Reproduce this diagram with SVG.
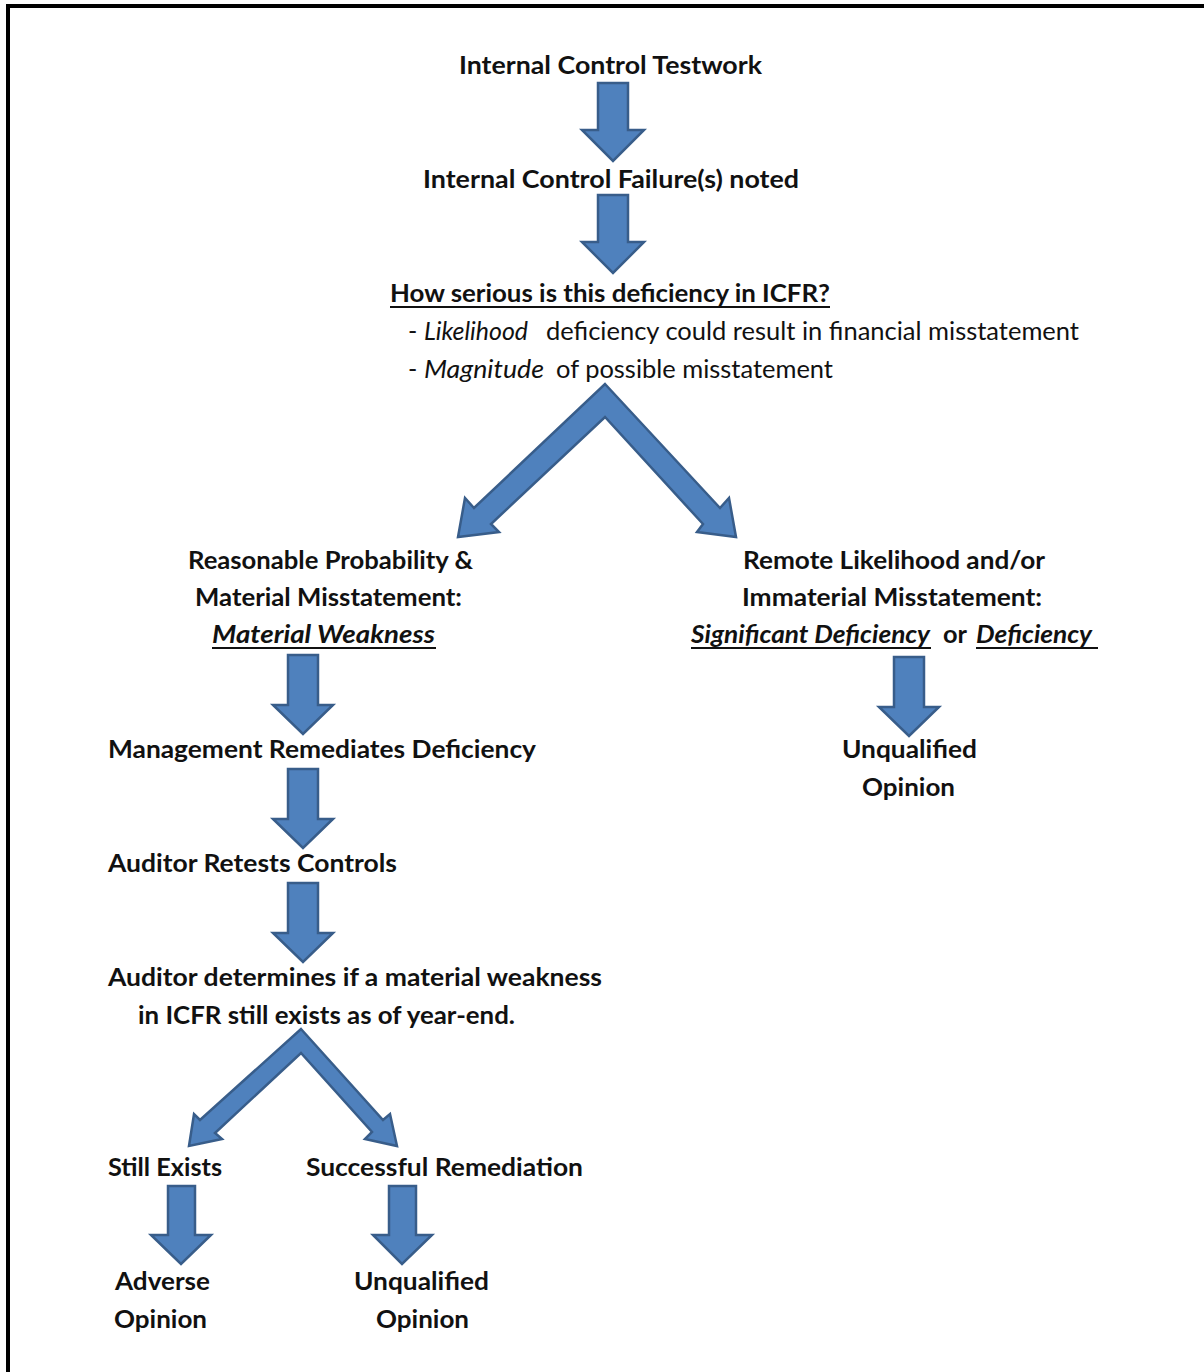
<svg xmlns="http://www.w3.org/2000/svg" width="1204" height="1372" viewBox="0 0 1204 1372">
<style>
.t{font-family:Lato,"Open Sans","Liberation Sans",sans-serif;font-size:25px;fill:#111;}
.b{font-weight:bold;}
.i{font-style:italic;}
.ar{fill:#4F81BD;stroke:#385D8A;stroke-width:2.5;stroke-linejoin:miter;}
.ul{stroke:#111;stroke-width:2;}
</style>
<rect x="0" y="0" width="1204" height="1372" fill="#fff"/>
<rect x="8" y="6" width="1220" height="1400" fill="none" stroke="#000" stroke-width="4"/>

<g id="connectors">
  <polygon class="ar" points="598,83 628,83 628,130 644,130 613,161 582,130 598,130"/>
  <polygon class="ar" points="598,195 628,195 628,242 644,242 613,273 582,242 598,242"/>
  <polygon class="ar" points="605,384 720,508 729,498 736,537 697,532 703,524 605,417 491,524 499,532 458,537 465,498 474,508"/>
  <polygon class="ar" points="288,655 318,655 318,705 333,705 303,734 273,705 288,705"/>
  <polygon class="ar" points="288,769 318,769 318,819 333,819 303,848 273,819 288,819"/>
  <polygon class="ar" points="288,883 318,883 318,933 333,933 303,962 273,933 288,933"/>
  <polygon class="ar" points="894,657 924,657 924,707 939,707 909,736 879,707 894,707"/>
  <polygon class="ar" points="301,1029 383,1120 390,1114 397,1146 365,1139 372,1132 301,1053 215,1133 222,1139 189,1146 194,1114 200,1120"/>
  <polygon class="ar" points="168,1186 195,1186 195,1235 211,1235 181,1264 151,1235 168,1235"/>
  <polygon class="ar" points="389,1186 416,1186 416,1235 432,1235 402,1264 373,1235 389,1235"/>
</g>

<g id="n-testwork"><text class="t b" x="459" y="74" textLength="303" lengthAdjust="spacingAndGlyphs">Internal Control Testwork</text></g>
<g id="n-failure"><text class="t b" x="423" y="188" textLength="376" lengthAdjust="spacingAndGlyphs">Internal Control Failure(s) noted</text></g>
<g id="n-serious">
  <text class="t b" x="390" y="302" textLength="440" lengthAdjust="spacingAndGlyphs">How serious is this deficiency in ICFR?</text>
  <line class="ul" x1="390" y1="307" x2="830" y2="307"/>
  <text class="t" x="408" y="340">-</text>
  <text class="t i" x="424" y="340" textLength="104" lengthAdjust="spacingAndGlyphs">Likelihood</text>
  <text class="t" x="546" y="340" textLength="533" lengthAdjust="spacingAndGlyphs">deficiency could result in financial misstatement</text>
  <text class="t" x="408" y="378">-</text>
  <text class="t i" x="424" y="378" textLength="120" lengthAdjust="spacingAndGlyphs">Magnitude</text>
  <text class="t" x="556" y="378" textLength="277" lengthAdjust="spacingAndGlyphs">of possible misstatement</text>
</g>
<g id="n-material">
  <text class="t b" x="188" y="569" textLength="285" lengthAdjust="spacingAndGlyphs">Reasonable Probability &amp;</text>
  <text class="t b" x="195" y="606" textLength="267" lengthAdjust="spacingAndGlyphs">Material Misstatement:</text>
  <text class="t b i" x="212" y="643" textLength="223" lengthAdjust="spacingAndGlyphs">Material Weakness</text>
  <line class="ul" x1="212" y1="648" x2="436" y2="648"/>
</g>
<g id="n-remote">
  <text class="t b" x="743" y="569" textLength="302" lengthAdjust="spacingAndGlyphs">Remote Likelihood and/or</text>
  <text class="t b" x="742" y="606" textLength="300" lengthAdjust="spacingAndGlyphs">Immaterial Misstatement:</text>
  <text class="t b i" x="691" y="643" textLength="239" lengthAdjust="spacingAndGlyphs">Significant Deficiency</text>
  <text class="t b" x="943" y="643" textLength="24" lengthAdjust="spacingAndGlyphs">or</text>
  <text class="t b i" x="976" y="643" textLength="116" lengthAdjust="spacingAndGlyphs">Deficiency</text>
  <line class="ul" x1="691" y1="648" x2="931" y2="648"/>
  <line class="ul" x1="976" y1="648" x2="1098" y2="648"/>
</g>
<g id="n-remediates"><text class="t b" x="108" y="758" textLength="428" lengthAdjust="spacingAndGlyphs">Management Remediates Deficiency</text></g>
<g id="n-unqualified-right">
  <text class="t b" x="842" y="758" textLength="135" lengthAdjust="spacingAndGlyphs">Unqualified</text>
  <text class="t b" x="862" y="796" textLength="93" lengthAdjust="spacingAndGlyphs">Opinion</text>
</g>
<g id="n-retests"><text class="t b" x="108" y="872" textLength="289" lengthAdjust="spacingAndGlyphs">Auditor Retests Controls</text></g>
<g id="n-determines">
  <text class="t b" x="108" y="986" textLength="494" lengthAdjust="spacingAndGlyphs">Auditor determines if a material weakness</text>
  <text class="t b" x="138" y="1024" textLength="377" lengthAdjust="spacingAndGlyphs">in ICFR still exists as of year-end.</text>
</g>
<g id="n-still"><text class="t b" x="108" y="1176" textLength="114" lengthAdjust="spacingAndGlyphs">Still Exists</text></g>
<g id="n-success"><text class="t b" x="306" y="1176" textLength="277" lengthAdjust="spacingAndGlyphs">Successful Remediation</text></g>
<g id="n-adverse">
  <text class="t b" x="115" y="1290" textLength="95" lengthAdjust="spacingAndGlyphs">Adverse</text>
  <text class="t b" x="114" y="1328" textLength="93" lengthAdjust="spacingAndGlyphs">Opinion</text>
</g>
<g id="n-unqualified-left">
  <text class="t b" x="354" y="1290" textLength="135" lengthAdjust="spacingAndGlyphs">Unqualified</text>
  <text class="t b" x="376" y="1328" textLength="93" lengthAdjust="spacingAndGlyphs">Opinion</text>
</g>
</svg>
